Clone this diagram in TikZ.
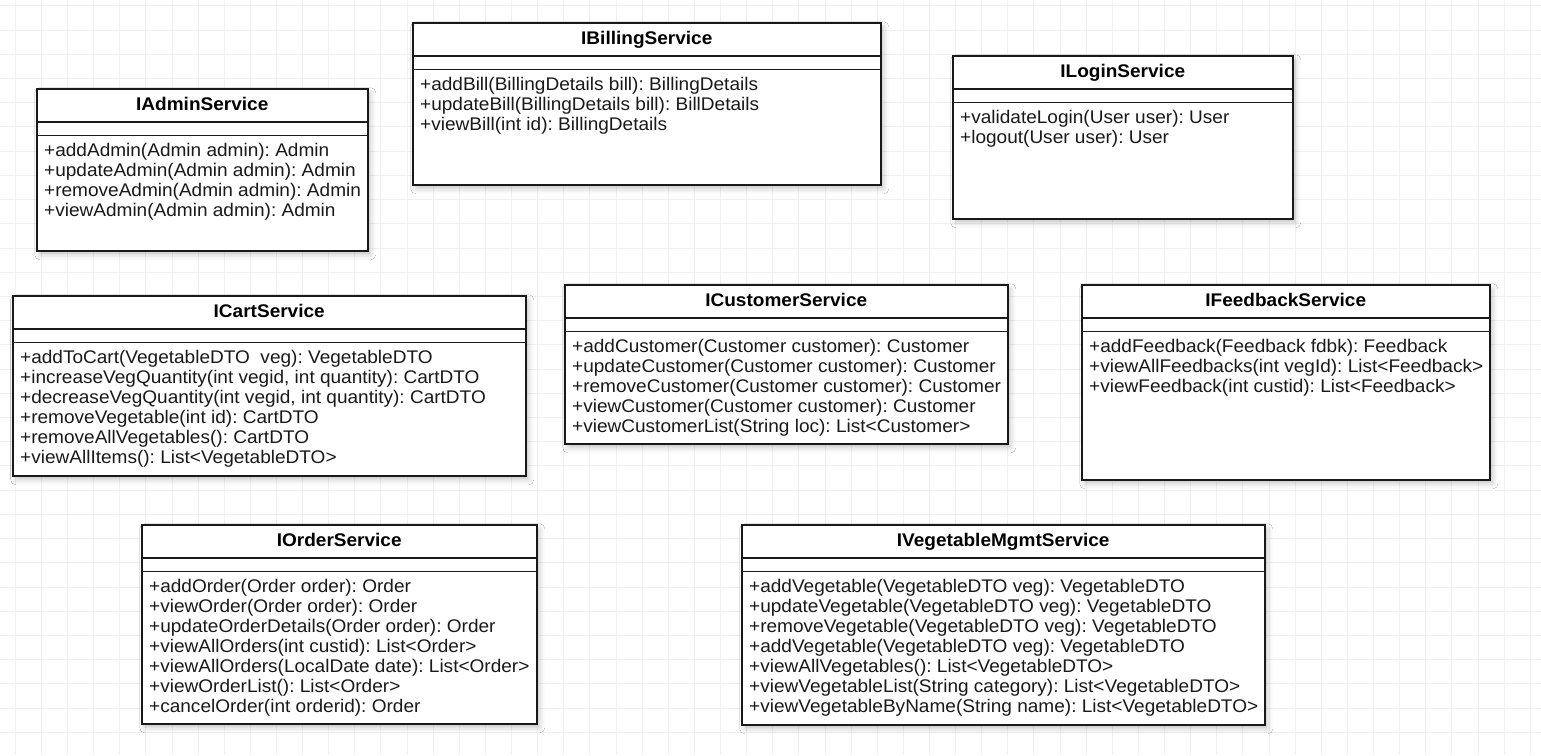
\documentclass[tikz,border=0pt]{standalone}
\usepackage{fontspec}
\setmainfont[FakeStretch=1.04]{Liberation Sans}
\usetikzlibrary{shadows.blur}
\frenchspacing
\tikzset{
  classbox/.style={draw=black!90, line width=1.5pt, fill=white, inner sep=0pt,
    blur shadow={shadow xshift=3pt, shadow yshift=-4pt, shadow blur radius=5pt, shadow opacity=22}},
  classline/.style={draw=black!90, line width=1.5pt},
  titletext/.style={inner sep=0pt, font=\fontsize{18.3}{20}\selectfont\bfseries\frenchspacing, text=black},
  methodtext/.style={inner sep=0pt, align=left, font=\fontsize{18.3}{20}\selectfont\frenchspacing, text=black!90},
  gridline/.style={draw=black!6, line width=1pt}
}
\newcommand\umlclass[7]{%
  \node[classbox, minimum width=#4pt, minimum height=#5pt, anchor=north west] (#1) at (#2,#3) {};
  \draw[classline] ([yshift=-34pt]#1.north west) -- ([yshift=-34pt]#1.north east);
  \draw[classline] ([yshift=-47.5pt]#1.north west) -- ([yshift=-47.5pt]#1.north east);
  \node[titletext, anchor=base] (#1-title) at ([yshift=-22.5pt]#1.north) {#6};
  \node[methodtext, anchor=north west] (#1-ops) at ([xshift=8pt,yshift=-54.5pt]#1.north west) {\strut#7};
}
\begin{document}
\begin{tikzpicture}[x=1pt, y=-1pt]
\useasboundingbox (0,0) rectangle (1541,755);
\fill[white] (0,0) rectangle (1541,755);
\foreach \k in {0,...,58} {\draw[gridline] ({15.3+26.12*\k},0) -- ({15.3+26.12*\k},755);}
\foreach \k in {0,...,30} {\draw[gridline] (0,{5.8+24.22*\k}) -- (1541,{5.8+24.22*\k});}

\umlclass{admin}{36}{88}{331}{162}{IAdminService}{%
+addAdmin(Admin admin): Admin\\
+updateAdmin(Admin admin): Admin\\
+removeAdmin(Admin admin): Admin\\
+viewAdmin(Admin admin): Admin}

\umlclass{billing}{412}{22}{468}{162}{IBillingService}{%
+addBill(BillingDetails bill): BillingDetails\\
+updateBill(BillingDetails bill): BillDetails\\
+viewBill(int id): BillingDetails}

\umlclass{login}{952}{55}{340}{163}{ILoginService}{%
+validateLogin(User user): User\\
+logout(User user): User}

\umlclass{cart}{12}{295}{513}{180}{ICartService}{%
+addToCart(VegetableDTO\ \ veg): VegetableDTO\\
+increaseVegQuantity(int vegid, int quantity): CartDTO\\
+decreaseVegQuantity(int vegid, int quantity): CartDTO\\
+removeVegetable(int id): CartDTO\\
+removeAllVegetables(): CartDTO\\
+viewAllItems(): List<VegetableDTO>}

\umlclass{customer}{564}{284}{443}{159}{ICustomerService}{%
+addCustomer(Customer customer): Customer\\
+updateCustomer(Customer customer): Customer\\
+removeCustomer(Customer customer): Customer\\
+viewCustomer(Customer customer): Customer\\
+viewCustomerList(String loc): List<Customer>}

\umlclass{feedback}{1081}{284}{408}{195}{IFeedbackService}{%
+addFeedback(Feedback fdbk): Feedback\\
+viewAllFeedbacks(int vegId): List<Feedback>\\
+viewFeedback(int custid): List<Feedback>}

\umlclass{order}{141}{524}{395}{199}{IOrderService}{%
+addOrder(Order order): Order\\
+viewOrder(Order order): Order\\
+updateOrderDetails(Order order): Order\\
+viewAllOrders(int custid): List<Order>\\
+viewAllOrders(LocalDate date): List<Order>\\
+viewOrderList(): List<Order>\\
+cancelOrder(int orderid): Order}

\umlclass{vegetable}{741}{524}{523}{200}{IVegetableMgmtService}{%
+addVegetable(VegetableDTO veg): VegetableDTO\\
+updateVegetable(VegetableDTO veg): VegetableDTO\\
+removeVegetable(VegetableDTO veg): VegetableDTO\\
+addVegetable(VegetableDTO veg): VegetableDTO\\
+viewAllVegetables(): List<VegetableDTO>\\
+viewVegetableList(String category): List<VegetableDTO>\\
+viewVegetableByName(String name): List<VegetableDTO>}
\end{tikzpicture}
\end{document}
